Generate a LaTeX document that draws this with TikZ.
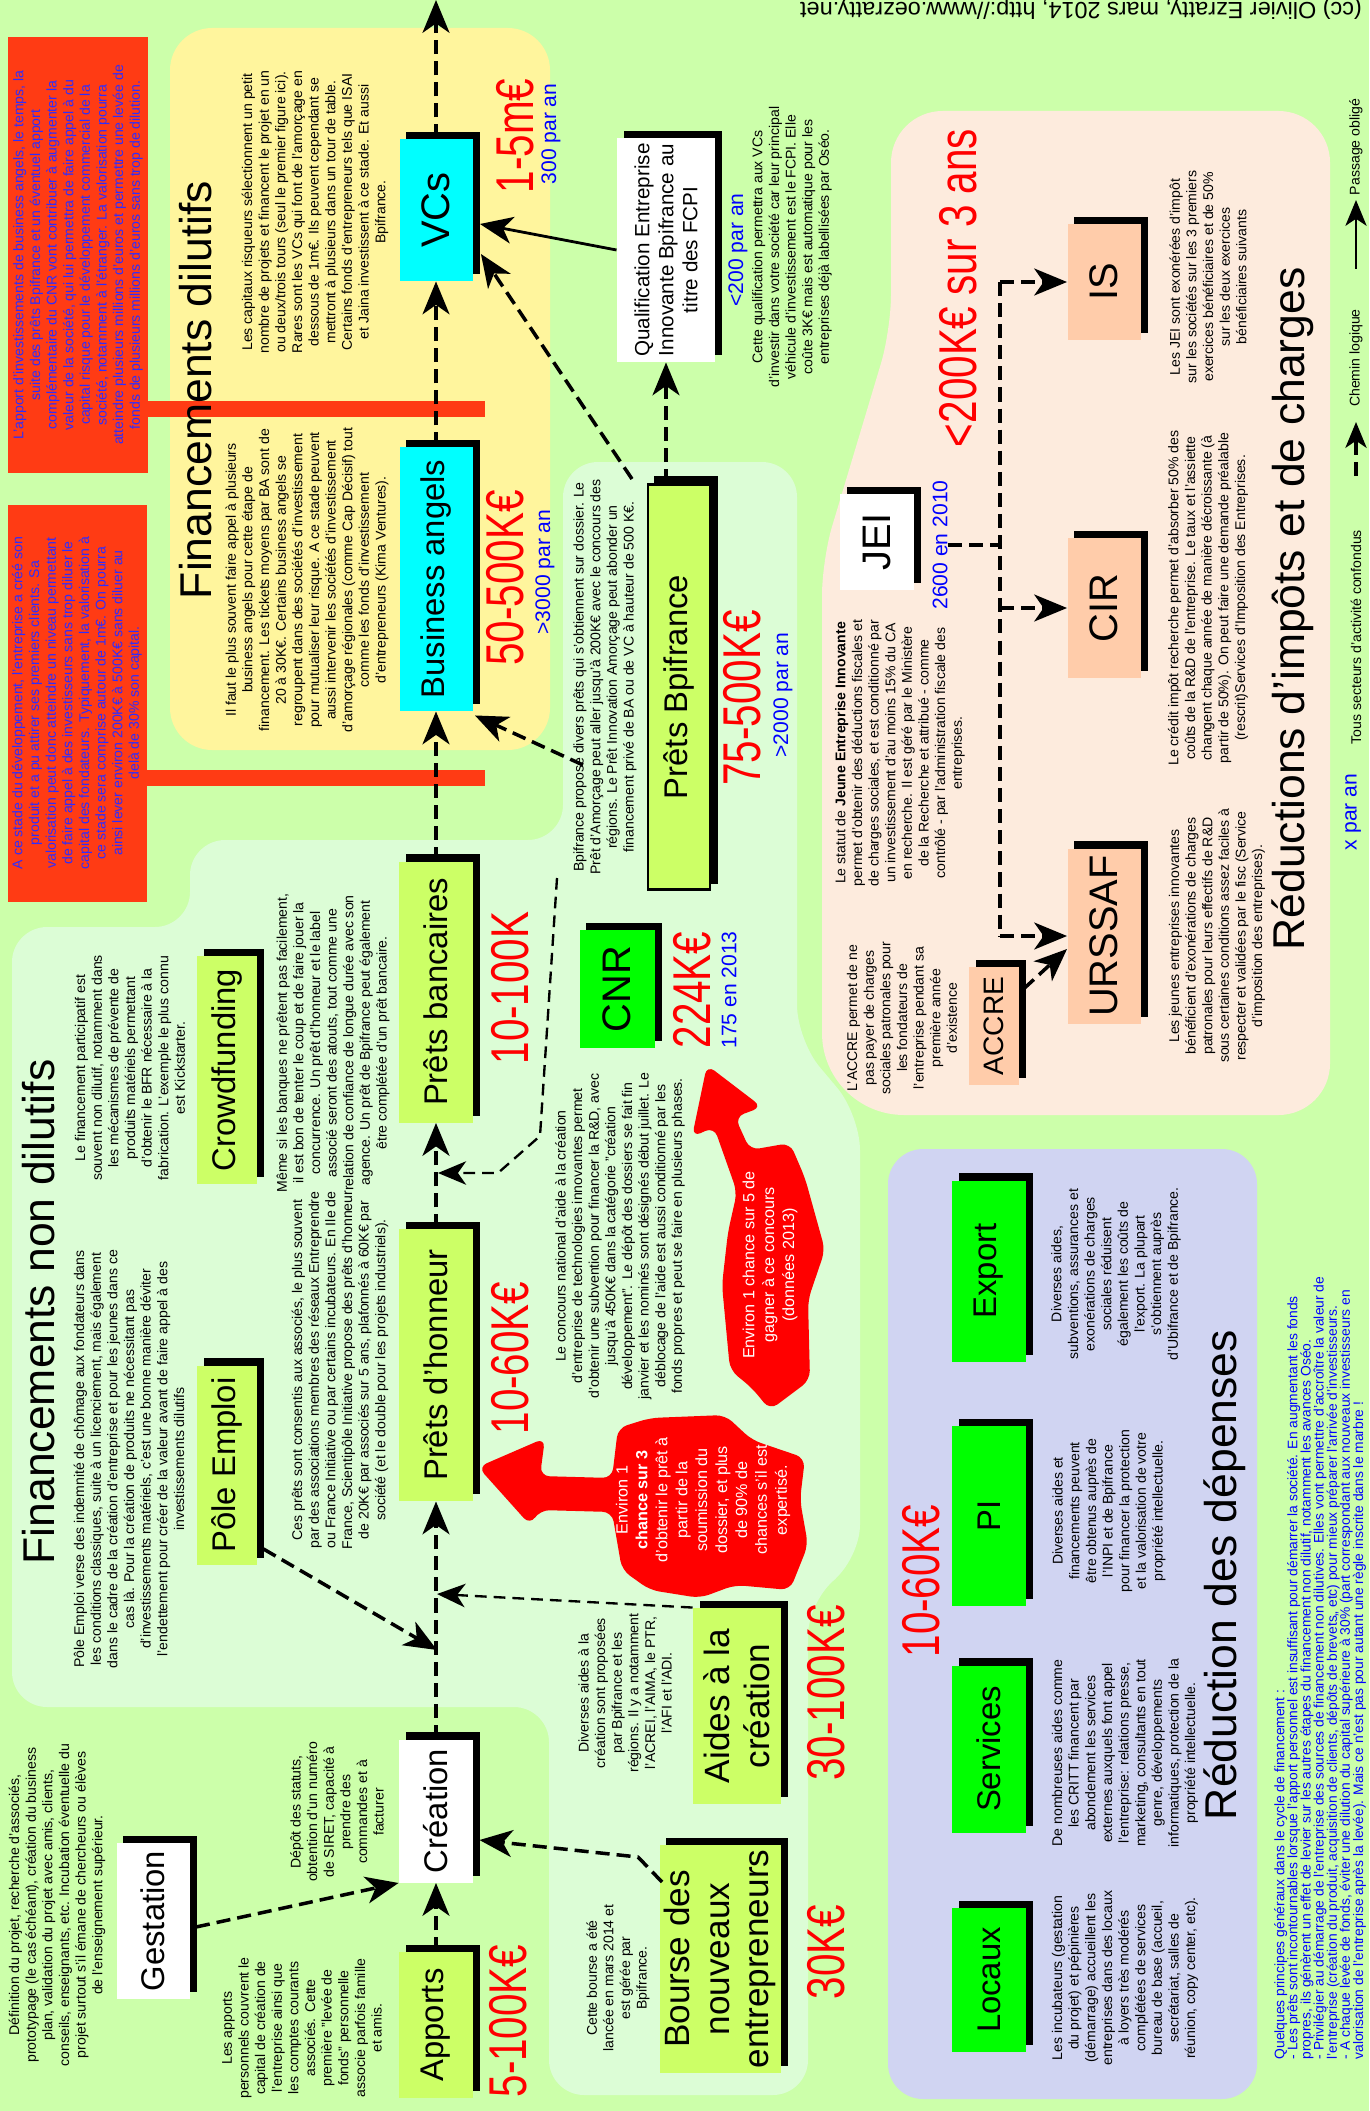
\documentclass[tikz,border=0pt]{standalone}
\usepackage{fontspec}
\setmainfont{Liberation Sans}
\newfontfamily\narrowsans{Liberation Sans}[FakeStretch=0.76]
\usetikzlibrary{arrows.meta,calc}
\pgfdeclarelayer{regions}
\pgfdeclarelayer{shades}
\pgfsetlayers{regions,shades,main}

\definecolor{bggreen}{RGB}{204,255,170}
\definecolor{yellowbg}{RGB}{255,245,157}
\definecolor{mintbg}{RGB}{220,253,214}
\definecolor{peachbg}{RGB}{253,235,221}
\definecolor{lavbg}{RGB}{208,212,242}
\definecolor{warnred}{RGB}{255,59,20}
\definecolor{warnblue}{RGB}{45,45,255}
\definecolor{cyanbox}{RGB}{0,255,255}
\definecolor{limebox}{RGB}{204,255,102}
\definecolor{greenbox}{RGB}{0,255,0}
\definecolor{peachbox}{RGB}{255,204,170}
\definecolor{amountred}{RGB}{255,0,0}
\definecolor{countblue}{RGB}{0,0,255}

\newcommand{\bodyfont}{\fontsize{6}{7.1}\selectfont}
\newcommand{\boxfont}{\fontsize{14}{16}\selectfont}
\newcommand{\bigboxfont}{\fontsize{17}{20}\selectfont}
\newcommand{\accrefont}{\fontsize{12}{14}\selectfont}
\newcommand{\bourfont}{\fontsize{15}{17}\selectfont}
\newcommand{\qualfont}{\fontsize{8.8}{10.2}\selectfont}
\newcommand{\amountfont}{\narrowsans\fontsize{22.7}{24}\selectfont}
\newcommand{\tallyfont}{\fontsize{9}{10}\selectfont}
\newcommand{\headfont}{\fontsize{19}{22}\selectfont}
\newcommand{\blobfont}{\fontsize{6.9}{8.5}\selectfont}

\begin{document}
\begin{tikzpicture}[x=0.015cm, y=-0.015cm,
    vtext/.style={rotate=90, inner sep=0pt, align=center, font=\bodyfont},
    sz/.style 2 args={minimum width=#2*0.015cm, minimum height=#1*0.015cm},
    stage/.style={rotate=90, inner sep=0pt, align=center, font=\boxfont},
    amount/.style={rotate=90, inner sep=0pt, text=amountred, font=\amountfont},
    tally/.style={rotate=90, inner sep=0pt, text=countblue, font=\tallyfont},
    headline/.style={rotate=90, inner sep=0pt, font=\headfont},
    blobtext/.style={rotate=90, inner sep=0pt, align=center, text=white, font=\blobfont},
    flow/.style={line width=1.5pt, dash pattern=on 6pt off 3pt, -{Stealth[length=14pt,width=11.5pt,inset=4pt]}},
    thinflow/.style={line width=1pt, dash pattern=on 5pt off 3pt, -{Stealth[length=12pt,width=10pt,inset=3.5pt]}},
    busline/.style={line width=1.5pt, dash pattern=on 6pt off 3pt},
    must/.style={line width=1.2pt, -{Stealth[length=14pt,width=11.5pt,inset=4pt]}},
    legtip/.style={-{Stealth[length=11pt,width=9pt,inset=3pt]}}
]
% fonds
\useasboundingbox (0,0) rectangle (1369,2111);
\begin{pgfonlayer}{regions}
\fill[bggreen] (0,0) rectangle (1369,2111);
\fill[yellowbg, rounded corners=18pt] (170,28) rectangle (550,750);
\fill[mintbg, rounded corners=15pt] (12,1300) -- (12,927) -- (190,927) -- (190,840) -- (563,840) -- (563,462)
    -- (797,462) -- (797,1040) -- (860,1115) -- (860,1560) -- (808,1600) -- (808,2095) -- (549,2095)
    -- (549,1707) -- (12,1707) -- cycle;
\fill[peachbg] (891,250) [rounded corners=22pt] -- (891,111) -- (1330,111) -- (1330,1115)
    [rounded corners=35pt] -- (822,1115) [rounded corners=15pt] -- (822,560) -- (891,330) -- cycle;
\fill[lavbg, rounded corners=15pt] (888,1149) rectangle (1257,2099);
\end{pgfonlayer}

% encadres rouges
\node[vtext, sz={140}{435}, fill=warnred, text=warnblue] (warn1) at (78,255) {L'apport d'investissements de business angels, le temps, la\\
suite des prêts Bpifrance et un éventuel apport\\
complémentaire du CNR vont contribuer à augmenter la\\
valeur de la société, qui lui permettra de faire appel à du\\
capital risque pour le développement commercial de la\\
société, notamment à l'étranger. La valorisation pourra\\
atteindre plusieurs millions d'euros et permettre une levée de\\
fonds de plusieurs millions d'euros sans trop de dilution.};
\node[vtext, sz={139}{397}, fill=warnred, text=warnblue] (warn2) at (77,703) {A ce stade du développement, l'entreprise a créé son\\
produit et a pu attirer ses premiers clients. Sa\\
valorisation peut donc atteindre un niveau permettant\\
de faire appel à des investisseurs sans trop diluer le\\
capital des fondateurs. Typiquement, la valorisation à\\
ce stade sera comprise autour de 1m€. On pourra\\
ainsi lever environ 200K€ à 500K€ sans diluer au\\
delà de 30\% son capital.};
\fill[warnred] (145,401) rectangle (485,417);
\fill[warnred] (145,770) rectangle (485,786);

% titres
\node[headline] (dilutifs) at (196,390) {Financements dilutifs};
\node[headline] (nondilutifs) at (39,1312) {Financements non dilutifs};
\node[headline] (depenses) at (1225,1575) {Réduction des dépenses};
\node[headline] (impots) at (1293,609) {Réductions d'impôts et de charges};

% textes
\node[vtext] (vctext) at (315,212) {Les capitaux risqueurs sélectionnent un petit\\
nombre de projets et financent le projet en un\\
ou deux/trois tours (seul le premier figure ici).\\
Rares sont les VCs qui font de l'amorçage en\\
dessous de 1m€. Ils peuvent cependant se\\
mettront à plusieurs dans un tour de table.\\
Certains fonds d'entrepreneurs tels que ISAI\\
et Jaina investissent à ce stade. Et aussi\\
Bpifrance.};
\node[vtext] (batext) at (307,580) {Il faut le plus souvent faire appel à plusieurs\\
business angels pour cette étape de\\
financement. Les tickets moyens par BA sont de\\
20 à 30K€. Certains business angels se\\
regroupent dans des sociétés d'investissement\\
pour mutualiser leur risque. A ce stade peuvent\\
aussi intervenir les sociétés d'investissement\\
d'amorçage régionales (comme Cap Décisif) tout\\
comme les fonds d'investissement\\
d'entrepreneurs (Kima Ventures).};
\node[vtext] (qualtext) at (792,247) {Cette qualification permettra aux VCs\\
d'investir dans votre société car leur principal\\
véhicule d'investissement est le FCPI. Elle\\
coûte 3K€ mais est automatique pour les\\
entreprises déjà labellisées par Oséo.};
\node[vtext] (bpitext) at (605,677) {Bpifrance propose divers prêts qui s'obtiennent sur dossier. Le\\
Prêt d'Amorçage peut aller jusqu'à 200K€ avec le concours des\\
régions. Le Prêt Innovation Amorçage peut abonder un\\
financement privé de BA ou de VC à hauteur de 500 K€.};
\node[vtext] (cnrtext) at (620,1236) {Le concours national d'aide à la création\\
d'entreprise de technologies innovantes permet\\
d'obtenir une subvention pour financer la R\&D, avec\\
jusqu'à 450K€ dans la catégorie "création\\
développement". Le dépôt des dossiers se fait fin\\
janvier et les nominés sont désignés début juillet. Le\\
déblocage de l'aide est aussi conditionné par les\\
fonds propres et peut se faire en plusieurs phases.};
\node[vtext] (jeitext) at (900,753) {Le statut de \textbf{Jeune Entreprise Innovante}\\
permet d'obtenir des déductions fiscales et\\
de charges sociales, et est conditionné par\\
un investissement d'au moins 15\% du CA\\
en recherche. Il est géré par le Ministère\\
de la Recherche et attribué  - comme\\
contrôlé - par l'administration fiscale des\\
entreprises.};
\node[vtext] (accretext) at (902,1018) {L'ACCRE permet de ne\\
pas payer de charges\\
sociales patronales pour\\
les fondateurs de\\
l'entreprise pendant sa\\
première année\\
d'existence};
\node[vtext] (istext) at (1208,277) {Les JEI sont exonérées d'impôt\\
sur les sociétés sur les 3 premiers\\
exercices bénéficiaires et de 50\%\\
sur les deux exercices\\
bénéficiaires suivants};
\node[vtext] (cirtext) at (1208,598) {Le crédit impôt recherche permet d'absorber 50\% des\\
coûts de la R\&D de l'entreprise. Le taux et l'assiette\\
changent chaque année de manière décroissante (à\\
partir de 50\%). On peut faire une demande préalable\\
(rescrit)Services d'Imposition des Entreprises.};
\node[vtext] (urssaftext) at (1217,936) {Les jeunes entreprises innovantes\\
bénéficient d'exonérations de charges\\
patronales pour leurs effectifs de R\&D\\
sous certaines conditions assez faciles à\\
respecter et validées par le fisc (Service\\
d'imposition des entreprises).};
\node[vtext] (crowdtext) at (130,1068) {Le financement participatif est\\
souvent non dilutif, notamment dans\\
les mécanismes de prévente de\\
produits matériels permettant\\
d'obtenir le BFR nécessaire à la\\
fabrication. L'exemple le plus connu\\
est Kickstarter.};
\node[vtext] (poletext) at (129,1459) {Pôle Emploi verse des indemnité de chômage aux fondateurs dans\\
les conditions classiques, suite à un licenciement, mais également\\
dans le cadre de la création d'entreprise et pour les jeunes dans ce\\
cas là. Pour la création de produits ne nécessitant pas\\
d'investissements matériels, c'est une bonne manière déviter\\
l'endettement pour créer de la valeur avant de faire appel à des\\
investissements dilutifs};
\node[vtext] (banktext) at (333,1043) {Même si les banques ne prêtent pas facilement,\\
il est bon de tenter le coup et de faire jouer la\\
concurrence. Un prêt d'honneur et le label\\
associé seront des atouts, tout comme une\\
relation de confiance de longue durée avec son\\
agence. Un prêt de Bpifrance peut également\\
être complétée d'un prêt bancaire.};
\node[vtext] (phtext) at (340,1370) {Ces prêts sont consentis aux associés, le plus souvent\\
par des associations membres des réseaux Entreprendre\\
ou France Initiative ou par certains incubateurs. En Ile de\\
France, Scientipôle Initiative propose des prêts d'honneur\\
de 20K€ par associés sur 5 ans, plafonnés à 60K€ par\\
société (et le double pour les projets industriels).};
\node[vtext] (gesttext) at (57,1905) {Définition du projet, recherche d'associés,\\
prototypage (le cas échéant), création du business\\
plan, validation du projet avec amis, clients,\\
conseils, enseignants, etc. Incubation éventuelle du\\
projet surtout s'il émane de chercheurs ou élèves\\
de l'enseignement supérieur.};
\node[vtext] (apptext) at (302,2028) {Les apports\\
personnels couvrent le\\
capital de création de\\
l'entreprise ainsi que\\
les comptes courants\\
associés. Cette\\
première "levée de\\
fonds" personnelle\\
associe parfois famille\\
et amis.};
\node[vtext] (creatext) at (337,1812) {Dépôt des statuts,\\
obtention d'un numéro\\
de SIRET, capacité à\\
prendre des\\
commandes et à\\
facturer};
\node[vtext] (boursetext) at (618,1978) {Cette bourse a été\\
lancée en mars 2014 et\\
est gérée par\\
Bpifrance.};
\node[vtext] (aidestext) at (625,1693) {Diverses aides à la\\
création sont proposées\\
par Bpifrance et les\\
régions. Il y a notamment\\
l'ACREI, l'AIMA, le PTR,\\
l'AFI et l'ADI.};
\node[vtext] (locauxtext) at (1125,1978) {Les incubateurs (gestation\\
du projet) et pépinières\\
(démarrage) accueillent les\\
entreprises dans des locaux\\
à loyers très modérés\\
complétées de services\\
bureau de base (accueil,\\
secrétariat, salles de\\
réunion, copy center, etc).};
\node[vtext] (servtext) at (1125,1753) {De nombreuses aides comme\\
les CRITT financent par\\
abondement les services\\
externes auxquels font appel\\
l'entreprise: relations presse,\\
marketing, consultants en tout\\
genre, développements\\
informatiques, protection de la\\
propriété intellectuelle.};
\node[vtext] (pitext) at (1109,1511) {Diverses aides et\\
financements peuvent\\
être obtenus auprès de\\
l'INPI et de Bpifrance\\
pour financer la protection\\
et la valorisation de votre\\
propriété intellectuelle.};
\node[vtext] (exporttext) at (1116,1274) {Diverses aides,\\
subventions, assurances et\\
exonérations de charges\\
sociales réduisent\\
également les coûts de\\
l'export. La plupart\\
s'obtiennent auprès\\
d'Ubifrance et de Bpifrance.};
\node[vtext, align=left, text=countblue, font=\fontsize{5.9}{5.6}\selectfont] (principes) at (1320,1668) {Quelques principes généraux dans le cycle de financement :\\
- Les prêts sont incontournables lorsque l'apport personnel est insuffisant pour démarrer la société. En augmentant les fonds\\
propres, ils génèrent un effet de levier sur les autres étapes du financement non dilutif, notamment les avances Oséo.\\
- Privilégier au démarrage de l'entreprise des sources de financement non dilutives. Elles vont permettre d'accroître la valeur de\\
l'entreprise (création du produit, acquisition de clients, dépôts de brevets,, etc) pour mieux préparer l'arrivée d'investisseurs.\\
- A chaque levée de fonds, éviter une dilution du capital supérieure à 30\% (part correspondant aux nouveaux investisseurs en\\
valorisation de l'entreprise après la levée). Mais ce n'est pas pour autant une règle inscrite dans le marbre !};

% etapes
\node[stage, sz={73}{142}, fill=cyanbox, font=\bigboxfont] (vcs) at (436,210) {VCs};
\node[stage, sz={73}{264}, fill=cyanbox] (ba) at (436,579) {Business angels};
\node[stage, sz={74}{261}, fill=limebox] (pb) at (436,992) {Prêts bancaires};
\node[stage, sz={74}{272}, fill=limebox] (ph) at (436,1365) {Prêts d'honneur};
\node[stage, sz={74}{143}, fill=white] (crea) at (436,1811) {Création};
\node[stage, sz={74}{146}, fill=limebox] (app) at (436,2025) {Apports};
\node[stage, sz={73}{156}, fill=white] (gest) at (153,1921) {Gestation};
\node[stage, sz={60}{228}, fill=limebox] (crowd) at (227,1070) {Crowdfunding};
\node[stage, sz={60}{199}, fill=limebox] (pole) at (227,1465) {Pôle Emploi};
\node[stage, sz={75}{118}, fill=greenbox, font=\bigboxfont] (cnr) at (617,989) {CNR};
\node[stage, sz={62}{405}, fill=limebox, draw=black, line width=1pt] (pbpi) at (679,687) {Prêts Bpifrance};
\node[stage, sz={98}{224}, fill=white, font=\qualfont] (qualif) at (666,250) {Qualification Entreprise\\Innovante Bpifrance au\\titre des FCPI};
\node[stage, sz={88}{196}, fill=limebox, font=\bourfont] (aides) at (737,1706) {Aides à la\\création};
\node[stage, sz={121}{228}, fill=limebox, font=\bourfont] (bourse) at (720,1959) {Bourse des\\nouveaux\\entrepreneurs};
\node[stage, sz={74}{96}, fill=white, font=\bigboxfont] (jei) at (877,542) {JEI};
\node[stage, sz={73}{115}, fill=peachbox, font=\bigboxfont] (is) at (1104,282) {IS};
\node[stage, sz={73}{140}, fill=peachbox, font=\bigboxfont] (cir) at (1104,608) {CIR};
\node[stage, sz={73}{175}, fill=peachbox, font=\bigboxfont] (urssaf) at (1104,936) {URSSAF};
\node[stage, sz={50}{118}, fill=peachbox, font=\accrefont] (accre) at (994,1026) {ACCRE};
\node[stage, sz={74}{144}, fill=greenbox] (locaux) at (989,1980) {Locaux};
\node[stage, sz={74}{167}, fill=greenbox] (services) at (989,1749) {Services};
\node[stage, sz={74}{180}, fill=greenbox] (pi) at (989,1516) {PI};
\node[stage, sz={74}{181}, fill=greenbox] (export) at (989,1271) {Export};

% ombres des etapes
\begin{pgfonlayer}{shades}
\foreach \n in {vcs,ba,pb,ph,crea,app,gest,crowd,pole,cnr,pbpi,qualif,aides,bourse,jei,is,cir,urssaf,accre,locaux,services,pi,export}
    \fill[black] ($(\n.north west)+(7,-7)$) rectangle ($(\n.south east)+(7,-7)$);
\end{pgfonlayer}

% montants
\node[amount] (amtvcs) at (515,136) {1-5m€};
\node[tally] (nvcs) at (551,134) {300 par an};
\node[amount] (amtba) at (505,578) {50-500K€};
\node[tally] (nba) at (545,572) {>3000 par an};
\node[amount] (amtpb) at (510,988) {10-100K};
\node[amount] (amtph) at (510,1358) {10-60K€};
\node[amount] (amtapp) at (508,2021) {5-100K€};
\node[amount] (amtpbpi) at (742,698) {75-500K€};
\node[tally] (npbpi) at (783,695) {>2000 par an};
\node[amount] (amtcnr) at (692,990) {224K€};
\node[tally] (ncnr) at (729,990) {175 en 2013};
\node[amount] (amtaides) at (826,1693) {30-100K€};
\node[amount] (amtbourse) at (826,1952) {30K€};
\node[amount] (amtjei) at (958,288) {<200K€ sur 3 ans};
\node[tally] (njei) at (940,545) {2600 en 2010};
\node[amount] (amtdep) at (921,1581) {10-60K€};
\node[tally] (nqual) at (738,250) {<200 par an};

% fleches rouges
\fill[amountred, rounded corners=4pt] (478,1467) -- (545,1438) -- (540,1476) -- (612,1478) -- (618,1428)
    -- (650,1418) -- (725,1415) -- (752,1440) -- (805,1458) -- (800,1500) -- (808,1545) -- (790,1590)
    -- (735,1585) -- (700,1598) -- (650,1590) -- (622,1570) -- (612,1512) -- (540,1510) -- (530,1525) -- cycle;
\fill[amountred, rounded corners=4pt] (707,1065) -- (762,1107) -- (735,1117) -- (750,1150) -- (790,1143)
    -- (805,1178) -- (825,1250) -- (808,1300) -- (810,1380) -- (770,1410) -- (752,1388) -- (730,1370)
    -- (722,1285) -- (728,1232) -- (737,1192) -- (714,1127) -- (692,1137) -- cycle;
\node[blobtext] (blob1) at (703,1500) {Environ 1\\
\textbf{chance sur 3}\\
d'obtenir le prêt à\\
partir de la\\
soumission du\\
dossier, et plus\\
de 90\% de\\
chances s'il est\\
expertisé.};
\node[blobtext] (blob2) at (770,1265) {Environ 1 chance sur 5 de\\
gagner à ce concours\\
(données 2013)};

% legende et credit
\node[tally] (legcount) at (1353,812) {x par an};
\node[vtext] (legall) at (1356,637) {Tous secteurs d'activité confondus};
\node[vtext] (leglogic) at (1356,358) {Chemin logique};
\node[vtext] (legmust) at (1356,147) {Passage obligé};
\node[rotate=180, anchor=base, inner sep=0pt, font=\fontsize{10}{12}\selectfont] (credit) at (1081,3)
    {(cc) Olivier Ezratty, mars 2014, http://www.oezratty.net};

% liaisons
\coordinate (exit) at (436,0);
\coordinate (jbank) at (438,1173);
\coordinate (cnrbend1) at (540,1136);
\coordinate (cnrbend2) at (498,1173);
\coordinate (bpistart) at (557,878);
\coordinate (bpiba) at (583,765);
\coordinate (bpivc) at (632,479);
\coordinate (jaides) at (437,1594);
\coordinate (jpole) at (437,1650);
\coordinate (bbend) at (638,1857);
\coordinate (jeibus) at (1000,545);
\coordinate (lgdash) at (1356,476);
\coordinate (lgdashend) at (1356,422);
\coordinate (lgsolid) at (1356,269);
\coordinate (lgsolidend) at (1356,200);

\draw[flow] (vcs.east) -- (exit);
\draw[flow] (ba.east) -- (vcs.west);
\draw[flow] (pb.east) -- (ba.west);
\draw[flow] (ph.east) -- (pb.west);
\draw[flow] (crea.east) -- (ph.west);
\draw[flow] (app.east) -- (crea.west);
\draw[flow] ($(gest.south)+(6,6)$) -- (crea.north west);
\draw[flow] ($(bourse.north)+(3,-77)$) -- (bbend) -- ($(crea.south)+(6,29)$);
\draw[thinflow] (aides.north east) -- (jaides);
\draw[flow] ($(pole.south west)+(6,-16)$) -- (jpole);
\draw[thinflow] (bpistart) -- (cnrbend1) -- (cnrbend2) -- (jbank);
\draw[flow] (bpiba) -- ($(ba.south west)+(2,4)$);
\draw[flow] (bpivc) -- ($(vcs.south)+(8,44)$);
\draw[must] (qualif.north) -- ($(vcs.south)+(7,14)$);
\draw[flow] (qualif.west |- pbpi.east) -- (qualif.west);
\draw[busline] (njei.south) -- (jeibus);
\draw[busline] (jeibus |- is.north) -- (jeibus |- urssaf.north);
\draw[flow] (jeibus |- is.north) -- (is.north);
\draw[flow] (jeibus |- cir.north) -- (cir.north);
\draw[flow] (jeibus |- urssaf.north) -- (urssaf.north);
\draw[flow] ($(accre.south)+(4,-37)$) -- ($(urssaf.north)+(0,13)$);
\draw[busline, legtip] (lgdash) -- (lgdashend);
\draw[line width=1.2pt, legtip] (lgsolid) -- (lgsolidend);
\end{tikzpicture}
\end{document}
